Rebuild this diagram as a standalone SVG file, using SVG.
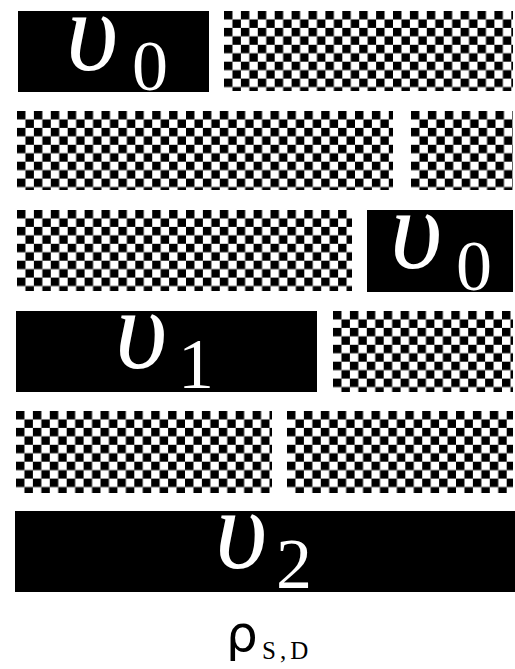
<svg xmlns="http://www.w3.org/2000/svg" width="515" height="669" viewBox="0 0 515 669">
<style>
.blk{fill:#000}
.chk{fill:url(#chk)}
.u{font-family:"Liberation Serif",serif;font-style:italic;font-size:114px;fill:#fff}
.s{font-family:"Liberation Serif",serif;font-size:72px;fill:#fff}
</style>
<defs>
<pattern id="chk" patternUnits="userSpaceOnUse" width="16.9" height="16.9">
<rect width="16.9" height="16.9" fill="#fff"/>
<rect width="8.45" height="8.45" fill="#000"/>
<rect x="8.45" y="8.45" width="8.45" height="8.45" fill="#000"/>
</pattern>
</defs>
<g id="row1">
<g id="n1a"><rect class="blk" x="18" y="11" width="191" height="81"/><text class="u" x="66" y="70">υ</text><text class="s" x="132" y="90">0</text></g>
<g id="n1b" transform="translate(224,11)"><rect class="chk" width="289" height="80"/></g>
</g>
<g id="row2">
<g id="n2a" transform="translate(17,111)"><rect class="chk" width="376" height="79"/></g>
<g id="n2b" transform="translate(411,111)"><rect class="chk" width="102" height="79"/></g>
</g>
<g id="row3">
<g id="n3a" transform="translate(17,210)"><rect class="chk" width="335" height="81"/></g>
<g id="n3b"><rect class="blk" x="367" y="210" width="146" height="82"/><text class="u" x="390" y="268">υ</text><text class="s" x="456" y="290">0</text></g>
</g>
<g id="row4">
<g id="n4a"><rect class="blk" x="16" y="311" width="301" height="81"/><text class="u" x="115" y="368">υ</text><text class="s" x="178" y="388">1</text></g>
<g id="n4b" transform="translate(333,311)"><rect class="chk" width="180" height="81"/></g>
</g>
<g id="row5">
<g id="n5a" transform="translate(16,411)"><rect class="chk" width="256" height="82"/></g>
<g id="n5b" transform="translate(287,411)"><rect class="chk" width="226" height="82"/></g>
</g>
<g id="row6">
<g id="n6a"><rect class="blk" x="15" y="511" width="500" height="81"/><text class="u" x="215" y="568">υ</text><text class="s" x="276" y="588">2</text></g>
</g>
<g id="label">
<text x="226" y="651" font-family="DejaVu Sans,sans-serif" font-size="50" fill="#000">ρ</text>
<text x="262" y="659" font-family="Liberation Serif,serif" font-size="25" letter-spacing="4" fill="#000">S,D</text>
</g>
<g id="connectors"/>
</svg>
